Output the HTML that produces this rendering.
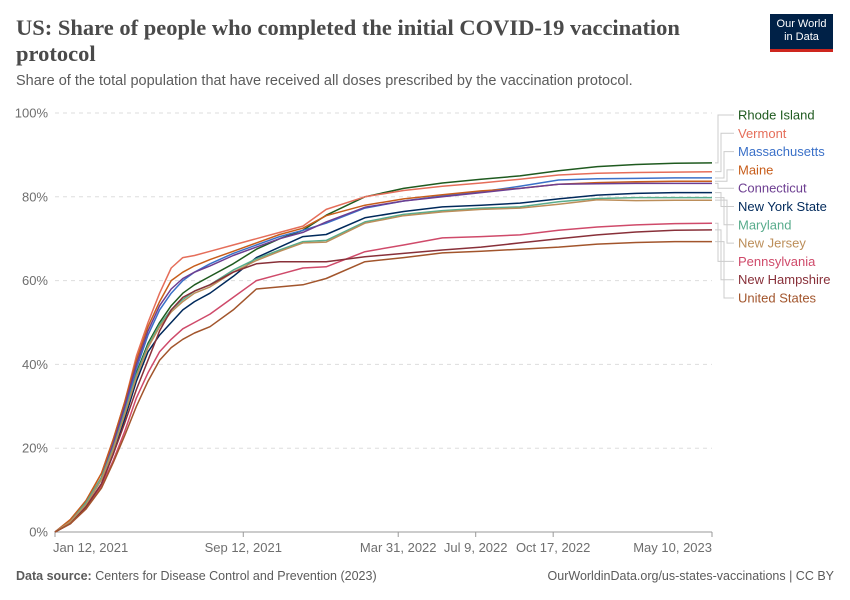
<!DOCTYPE html>
<html><head><meta charset="utf-8">
<style>
body{margin:0;background:#fff;width:850px;height:600px;overflow:hidden;font-family:"Liberation Sans",sans-serif}
.title{position:absolute;left:16px;top:15px;font-family:"Liberation Serif",serif;font-weight:bold;font-size:22.5px;line-height:26px;color:#4a4a4a;width:730px}
.sub{position:absolute;left:16px;top:73px;font-size:14.5px;color:#5b5b5b}
.logo{position:absolute;left:770px;top:14px;width:63px;height:38px;background:#002147;color:#fff;font-size:11px;line-height:13px;text-align:center;padding-top:4px;box-sizing:border-box;border-bottom:3px solid #ce261e}
.foot{position:absolute;top:569px;font-size:12.5px;color:#5b5b5b}
</style></head><body>
<div class="title">US: Share of people who completed the initial COVID-19 vaccination protocol</div>
<div class="sub">Share of the total population that have received all doses prescribed by the vaccination protocol.</div>
<div class="logo">Our World<br>in Data</div>
<div class="foot" style="left:16px"><b>Data source:</b> Centers for Disease Control and Prevention (2023)</div>
<div class="foot" style="right:16px">OurWorldinData.org/us-states-vaccinations | CC BY</div>
<svg id="chart" width="850" height="600" style="position:absolute;left:0;top:0"></svg>
<script>
const days=[0,20,40,60,75,90,105,120,135,150,165,180,200,230,260,290,320,350,400,450,500,550,600,650,700,750,800,848];
const names=["Rhode Island","Vermont","Massachusetts","Maine","Connecticut","New York State","Maryland","New Jersey","Pennsylvania","New Hampshire","United States"];
const colors=["#1f5a1f","#e56e5a","#3a70c8","#c75d1b","#6d3e91","#00295b","#58ac8c","#bc8e5a","#cf4a6a","#883039","#a2552c"];
const sRI=[0,2.5,7,13,20.5,29,38,45,50,54,57,59,61,64,67.5,70,72,75.6,80,82,83.3,84.2,85,86.2,87.2,87.7,88,88.1];
const sVT=[0,3,7.5,14,22,31,42,50,57,63,65.5,66,67,68.5,70,71.5,73,77,80,81.5,82.5,83.3,84.2,85.2,85.6,85.8,85.9,86];
const sMA=[0,2.5,6.5,12.5,20,29,39,47,53,57,60,62,64,66.5,68.5,70.5,72,73.7,77.3,79,80.2,81.2,82.5,84,84.3,84.4,84.5,84.5];
const sME=[0,3,7.5,14,22,31,41,49,55,60,62,63.5,65,67,69,71,72.5,75.5,78,79.5,80.5,81.4,82,83,83.4,83.6,83.7,83.7];
const sCT=[0,2.5,7,13,21,30,40,48,54,58,60.5,62,63.5,66,68,70,71.5,74,77.5,79,80,81,82,83,83.1,83.2,83.2,83.2];
const sNY=[0,2,6,11.5,18.5,27,36,43,47,50,53,55,57,61,65.5,68,70.5,71,75,76.5,77.6,78,78.5,79.5,80.4,80.8,81,81];
const sMD=[0,2.5,7,13,20,28.5,37.5,44.5,49.5,53,55.5,57.5,59,62.5,65.2,67.3,69.3,69.6,74,75.8,76.7,77.3,77.6,78.8,79.6,79.8,79.8,79.8];
const sNJ=[0,2.5,6.5,12.5,19.5,28,37,44,49,52.5,55,57,58.5,62,64.8,67,69,69.2,73.7,75.5,76.4,77,77.3,78.2,79.3,79.1,79.2,79.2];
const sPA=[0,2,5.5,11,17,24,32,38,43,46,48.5,50,52,56,60,61.5,63,63.3,66.9,68.5,70.2,70.5,70.9,72,72.8,73.3,73.6,73.7];
const sNH=[0,2,6,11.5,18.5,26,34,41,48,53,56,57.5,59,62,64,64.5,64.5,64.5,65.7,66.5,67.3,68,69,70,70.9,71.6,72,72.1];
const sUS=[0,2,5.5,10.5,16.5,23,30,36,41,44,46,47.5,49,53,58,58.5,59,60.5,64.5,65.5,66.6,67,67.5,68,68.7,69.1,69.3,69.3];
const series=[sRI,sVT,sMA,sME,sCT,sNY,sMD,sNJ,sPA,sNH,sUS];
const yTicks=[0,20,40,60,80,100];
const xTickDays=[0,243,443,543,643,848];
const xTickLabels=["Jan 12, 2021","Sep 12, 2021","Mar 31, 2022","Jul 9, 2022","Oct 17, 2022","May 10, 2023"];

const NS="http://www.w3.org/2000/svg";
const svg=document.getElementById('chart');
const X0=55,X1=712,Y0=532,Y1=113,DMAX=848;
const xs=d=>X0+(X1-X0)*d/DMAX;
const ys=v=>Y0-(Y0-Y1)*v/100;
function mk(t,a){const e=document.createElementNS(NS,t);for(const k in a)e.setAttribute(k,a[k]);svg.appendChild(e);return e;}
yTicks.forEach(v=>{
  const l=mk('line',{x1:X0,x2:X1,y1:ys(v),y2:ys(v),stroke:v===0?'#999':'#ddd','stroke-dasharray':v===0?'':'4,4'});
  
  
  const t=mk('text',{x:48,y:ys(v)+4.5,'text-anchor':'end','font-size':13,fill:'#6e6e6e'});
  t.textContent=v+'%';
  
  
});
xTickDays.forEach((d,i)=>{
  const tk=mk('line',{x1:xs(d),x2:xs(d),y1:Y0,y2:Y0+5,stroke:'#999'});
  
  
  const anchor=i===0?'start':(i===xTickDays.length-1?'end':'middle');
  const t=mk('text',{x:i===0?xs(d)-2:xs(d),y:552,'text-anchor':anchor,'font-size':13,fill:'#6e6e6e'});
  t.textContent=xTickLabels[i];
  
  
});
series.forEach((s,i)=>{
  const p=mk('polyline',{points:s.map((v,j)=>xs(days[j]).toFixed(1)+','+ys(v).toFixed(1)).join(' '),fill:'none',stroke:colors[i],'stroke-width':1.5,'stroke-linejoin':'round'});
  
  
});
names.forEach((n,i)=>{
  const ly=115+i*18.3;
  const ey=ys(series[i][series[i].length-1]);
  const bx=718+ (i%4)*3;
  const c=mk('path',{d:`M715,${ey} H${bx} V${ly} H734`,fill:'none',stroke:'#ccc','stroke-width':1});
  
  
  const t=mk('text',{x:738,y:ly+4.5,'font-size':13,fill:colors[i]});
  t.textContent=n;
  
  
});
</script>
</body></html>
